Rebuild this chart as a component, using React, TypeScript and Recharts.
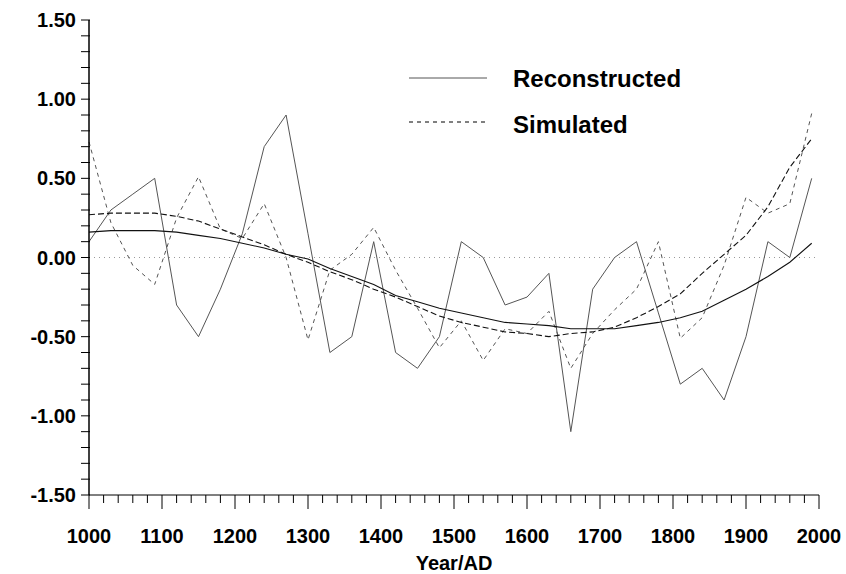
import React from "react"
import { LineChart, Line, XAxis, YAxis, ReferenceLine } from "recharts"

// sample years, one every 30 years
const years = [
  1000, 1030, 1060, 1090, 1120, 1150, 1180, 1210, 1240, 1270, 1300, 1330,
  1360, 1390, 1420, 1450, 1480, 1510, 1540, 1570, 1600, 1630, 1660, 1690,
  1720, 1750, 1780, 1810, 1840, 1870, 1900, 1930, 1960, 1990,
]

const reconstructed = [
  0.1, 0.3, 0.4, 0.5, -0.3, -0.5, -0.2, 0.15, 0.7, 0.9, 0.15, -0.6,
  -0.5, 0.1, -0.6, -0.7, -0.5, 0.1, 0.0, -0.3, -0.25, -0.1, -1.1, -0.2,
  0.0, 0.1, -0.35, -0.8, -0.7, -0.9, -0.5, 0.1, 0.0, 0.5,
]

const reconstructedTrend = [
  0.16, 0.17, 0.17, 0.17, 0.16, 0.14, 0.12, 0.09, 0.06, 0.02, -0.01, -0.07,
  -0.12, -0.17, -0.24, -0.28, -0.32, -0.35, -0.38, -0.41, -0.42, -0.43, -0.45, -0.45,
  -0.45, -0.43, -0.41, -0.38, -0.34, -0.27, -0.2, -0.12, -0.03, 0.09,
]

const simulated = [
  0.73, 0.22, -0.05, -0.17, 0.25, 0.51, 0.18, 0.12, 0.34, 0.0, -0.52, -0.08,
  0.02, 0.19, -0.08, -0.32, -0.57, -0.4, -0.65, -0.45, -0.48, -0.34, -0.7, -0.48,
  -0.33, -0.2, 0.1, -0.51, -0.38, -0.05, 0.38, 0.28, 0.34, 0.91,
]

const simulatedTrend = [
  0.27, 0.28, 0.28, 0.28, 0.26, 0.23, 0.18, 0.13, 0.08, 0.02, -0.03, -0.09,
  -0.14, -0.2, -0.25, -0.31, -0.37, -0.41, -0.44, -0.47, -0.48, -0.5, -0.48, -0.47,
  -0.44, -0.38, -0.31, -0.23, -0.1, 0.02, 0.14, 0.32, 0.57, 0.75,
]

const xTicks = Array.from({ length: 51 }, (_, i) => 1000 + i * 20)
const yTicks = Array.from({ length: 31 }, (_, i) => Math.round((-1.5 + i * 0.1) * 10) / 10)

const data = years.map((year, i) => ({
  year,
  rec: reconstructed[i],
  recTrend: reconstructedTrend[i],
  sim: simulated[i],
  simTrend: simulatedTrend[i],
}))

const FONT = "'Liberation Sans', Arial, sans-serif"

function XTick(props: any) {
  const { x, y, payload } = props
  const major = payload.value % 100 === 0
  return (
    <g>
      <line x1={x} y1={y} x2={x} y2={y + (major ? 14 : 8)} stroke="#000" strokeWidth={1} />
      {major && (
        <text x={x} y={y + 48} textAnchor="middle" fontFamily={FONT} fontWeight="bold" fontSize={20} fill="#000">
          {payload.value}
        </text>
      )}
    </g>
  )
}

function YTick(props: any) {
  const { x, y, payload } = props
  const v = payload.value
  const major = Math.abs(v * 2 - Math.round(v * 2)) < 1e-6
  return (
    <g>
      <line x1={x - 8} y1={y} x2={x + 1} y2={y} stroke="#000" strokeWidth={1} />
      {major && (
        <text x={x - 13} y={y + 7} textAnchor="end" fontFamily={FONT} fontWeight="bold" fontSize={20} fill="#000">
          {v.toFixed(2)}
        </text>
      )}
    </g>
  )
}

export default function App() {
  return (
    <div style={{ position: "absolute", left: 0, top: 0, width: 846, height: 574, background: "#fff" }}>
      <LineChart width={846} height={574} data={data} margin={{ top: 20, right: 27, bottom: 0, left: 0 }}>
        <XAxis
          dataKey="year"
          type="number"
          domain={[1000, 2000]}
          ticks={xTicks}
          interval={0}
          tick={<XTick />}
          tickLine={false}
          tickSize={0}
          tickMargin={0}
          axisLine={{ stroke: "#000", strokeWidth: 1 }}
          height={79}
          label={{
            value: "Year/AD",
            position: "insideBottom",
            offset: 4,
            style: { fontFamily: FONT, fontWeight: "bold", fontSize: 20, fill: "#000" },
          }}
        />
        <YAxis
          type="number"
          domain={[-1.5, 1.5]}
          ticks={yTicks}
          interval={0}
          tick={<YTick />}
          tickLine={false}
          tickSize={0}
          tickMargin={0}
          axisLine={{ stroke: "#000", strokeWidth: 1.5 }}
          width={89}
        />
        <ReferenceLine y={0} stroke="#999" strokeDasharray="1 4" />
        <Line type="linear" dataKey="rec" stroke="#555" strokeWidth={1} dot={false} isAnimationActive={false} />
        <Line type="linear" dataKey="sim" stroke="#555" strokeWidth={1} strokeDasharray="4 4" dot={false} isAnimationActive={false} />
        <Line type="linear" dataKey="recTrend" stroke="#111" strokeWidth={1.1} dot={false} isAnimationActive={false} />
        <Line type="linear" dataKey="simTrend" stroke="#111" strokeWidth={1.1} strokeDasharray="6 3" dot={false} isAnimationActive={false} />
      </LineChart>
      <svg width={846} height={574} style={{ position: "absolute", left: 0, top: 0, pointerEvents: "none" }}>
        <line x1={409} y1={78} x2={487} y2={78} stroke="#555" strokeWidth={1} />
        <text x={513} y={87} fontFamily={FONT} fontWeight="bold" fontSize={24} fill="#000">Reconstructed</text>
        <line x1={409} y1={122} x2={487} y2={122} stroke="#000" strokeWidth={1} strokeDasharray="4 4" />
        <text x={513} y={133} fontFamily={FONT} fontWeight="bold" fontSize={24} fill="#000">Simulated</text>
      </svg>
    </div>
  )
}
